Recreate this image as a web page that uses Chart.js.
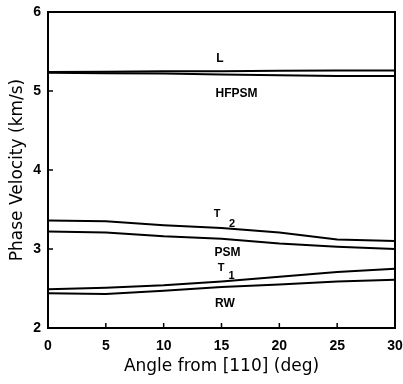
<!DOCTYPE html>
<html><head><meta charset="utf-8">
<script src="https://cdn.jsdelivr.net/npm/chart.js@4"></script>
<style>html,body{margin:0;padding:0;background:#fff}#wrap{width:403px;height:384px}</style>
</head><body><div id="wrap"><canvas id="c" width="403" height="384"></canvas></div>
<script>
const angles = [0, 5, 10, 15, 20, 25, 30];
const vL     = [5.24, 5.245, 5.25, 5.25, 5.255, 5.26, 5.26];
const vHFPSM = [5.23, 5.225, 5.22, 5.21, 5.20, 5.19, 5.19];
const vT2    = [3.36, 3.35, 3.30, 3.265, 3.21, 3.12, 3.10];
const vPSM   = [3.22, 3.21, 3.16, 3.13, 3.07, 3.03, 3.00];
const vT1    = [2.49, 2.51, 2.54, 2.59, 2.65, 2.71, 2.75];
const vRW    = [2.44, 2.43, 2.47, 2.52, 2.55, 2.59, 2.61];
const xTicks = [0, 5, 10, 15, 20, 25, 30];
const yTicks = [2, 3, 4, 5, 6];
const labels = [
  {text: 'L', x: 14.87, y: 5.415},
  {text: 'HFPSM', x: 16.3, y: 4.96},
  {text: 'T', x: 14.61, y: 3.44, sub: '2', dx: 15, dy: 10},
  {text: 'PSM', x: 15.52, y: 2.956},
  {text: 'T', x: 14.96, y: 2.766, sub: '1', dx: 10.5, dy: 8.5},
  {text: 'RW', x: 15.3, y: 2.305}
];

const series = [vL, vHFPSM, vT2, vPSM, vT1, vRW];
const datasets = series.map(v => ({
  data: angles.map((a, i) => ({x: a, y: v[i]})),
  showLine: true, borderColor: '#000', borderWidth: 2, pointRadius: 0, tension: 0, fill: false
}));

const FONT = 'Liberation Sans, Arial, sans-serif';
const TFONT = 'DejaVu Sans, sans-serif';
const deco = {
  id: 'deco',
  afterDraw(chart) {
    const {ctx, chartArea: a, scales: {x, y}} = chart;
    ctx.save();
    ctx.strokeStyle = '#000'; ctx.lineWidth = 2;
    ctx.strokeRect(a.left, a.top, a.right - a.left, a.bottom - a.top);
    ctx.lineWidth = 1.5;
    xTicks.forEach(t => { const px = x.getPixelForValue(t); ctx.beginPath(); ctx.moveTo(px, a.bottom); ctx.lineTo(px, a.bottom - 5); ctx.stroke(); });
    yTicks.forEach(t => { const py = y.getPixelForValue(t); ctx.beginPath(); ctx.moveTo(a.left, py); ctx.lineTo(a.left + 5, py); ctx.stroke(); });
    ctx.fillStyle = '#000';
    ctx.textBaseline = 'middle';
    ctx.textAlign = 'center';
    labels.forEach(l => {
      const px = x.getPixelForValue(l.x), py = y.getPixelForValue(l.y);
      ctx.font = (l.sub ? 'bold 11px ' : 'bold 12px ') + FONT;
      ctx.fillText(l.text, px, py);
      if (l.sub) {
        ctx.font = 'bold 11px ' + FONT;
        ctx.fillText(l.sub, px + l.dx, py + l.dy);
      }
    });
    ctx.restore();
  }
};

new Chart(document.getElementById('c'), {
  type: 'scatter',
  data: {datasets},
  options: {
    responsive: false, animation: false,
    layout: {padding: {left: 0, right: 8, top: 12, bottom: 0}},
    plugins: {legend: {display: false}, tooltip: {enabled: false}},
    scales: {
      x: {
        type: 'linear', min: 0, max: 30,
        afterBuildTicks: s => { s.ticks = xTicks.map(v => ({value: v})); },
        afterFit: s => { s.height = 56; s.paddingLeft = 0; s.paddingRight = 0; },
        grid: {display: false, drawTicks: false},
        border: {display: false},
        ticks: {color: '#000', padding: 10, maxRotation: 0, font: {family: FONT, size: 14, weight: 'bold'}},
        title: {display: true, text: 'Angle from [110] (deg)', color: '#000', padding: {top: 0, bottom: 7}, font: {family: TFONT, size: 17}}
      },
      y: {
        type: 'linear', min: 2, max: 6,
        afterBuildTicks: s => { s.ticks = yTicks.map(v => ({value: v})); },
        afterFit: s => { s.width = 48; s.paddingTop = 0; s.paddingBottom = 0; },
        grid: {display: false, drawTicks: false},
        border: {display: false},
        ticks: {color: '#000', padding: 7, font: {family: FONT, size: 14, weight: 'bold'}},
        title: {display: true, text: 'Phase Velocity (km/s)', color: '#000', padding: {top: 7, bottom: 0}, font: {family: TFONT, size: 17}}
      }
    }
  },
  plugins: [deco]
});
</script></body></html>
